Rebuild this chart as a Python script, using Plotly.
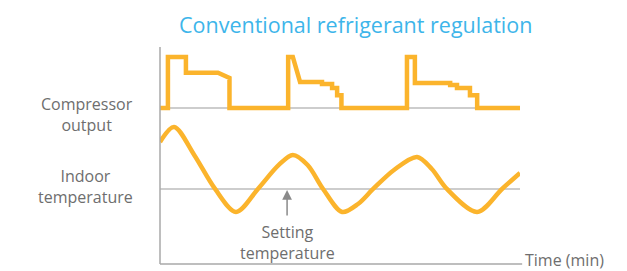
import plotly.graph_objects as go

# ---- data ----
# Compressor output (% of max) vs time (min)
comp_time = [0, 2.2, 2.2, 7.2, 7.2, 16.1, 19.3, 19.3, 35.6, 35.6, 36.9, 38.9, 45.0, 45.0,
             47.8, 47.8, 49.2, 49.2, 50.4, 50.4, 68.6, 68.6, 70.8, 70.8, 80.6, 80.6,
             82.5, 82.5, 86.1, 86.1, 88.1, 88.1, 100]
comp_level = [0, 0, 100, 100, 69, 69, 59, 0, 0, 100, 100, 51, 51, 47,
              47, 39, 39, 25, 25, 0, 0, 100, 100, 49, 49, 45,
              45, 39, 39, 25, 25, 0, 0]

# Indoor temperature (°C) vs time (min)
temp_time = [0, 3.9, 9.5, 15.3, 21.1, 27.2, 33.0, 36.9, 41.0, 45.3, 50.6, 55.0, 59.2,
             65.0, 71.4, 75.5, 79.7, 88.1, 95.0, 100]
temp_value = [26.35, 27.1, 25.7, 24.0, 22.85, 24.0, 25.2, 25.7, 25.2, 24.0, 22.85, 23.25, 24.0,
              24.95, 25.6, 25.0, 24.0, 22.85, 24.0, 24.8]

setpoint = 24.0
setpoint_marker_time = 35.3
time_range = [0, 100]

title_text = "Conventional refrigerant regulation"
label_compressor = "Compressor<br>output"
label_temperature = "Indoor<br>temperature"
label_setting = "Setting<br>temperature"
label_time = "Time (min)"

orange = "#FBB42C"
grey_line = "#BDBDBD"
axis_grey = "#A8A8A8"
text_grey = "#6E6E6E"
font_family = "'Open Sans', sans-serif"
lbl_font = dict(size=16, color=text_grey, family=font_family)

fig = go.Figure()

fig.add_trace(go.Scatter(x=comp_time, y=comp_level, mode="lines", yaxis="y2",
                         line=dict(color=orange, width=4.5, shape="linear"),
                         hoverinfo="skip", showlegend=False))
fig.add_trace(go.Scatter(x=temp_time, y=temp_value, mode="lines", yaxis="y",
                         line=dict(color=orange, width=4.5, shape="spline", smoothing=0.9),
                         hoverinfo="skip", showlegend=False))

shapes = [
    dict(type="line", xref="x", yref="y2", x0=time_range[0], x1=time_range[1], y0=0, y1=0,
         line=dict(color=grey_line, width=1.5), layer="below"),
    dict(type="line", xref="x", yref="y", x0=time_range[0], x1=time_range[1], y0=setpoint, y1=setpoint,
         line=dict(color=grey_line, width=1.5), layer="below"),
    dict(type="line", xref="paper", yref="paper", x0=0, x1=0, y0=0, y1=1,
         line=dict(color=axis_grey, width=1.5)),
    dict(type="line", xref="paper", yref="paper", x0=0, x1=1.006, y0=0, y1=0,
         line=dict(color=axis_grey, width=1.5)),
]

def txt(text, x, y, xref="paper", xanchor="center", font=lbl_font):
    return dict(text=text, xref=xref, yref="paper", x=x, y=y, showarrow=False,
                xanchor=xanchor, yanchor="middle", font=font)

annotations = [
    txt(title_text, 0.544, 1.103, font=dict(size=21.5, color="#3DB5EA", family=font_family)),
    txt(label_compressor, -0.203, 0.689),
    txt(label_temperature, -0.206, 0.355),
    txt(label_setting, setpoint_marker_time, 0.099, xref="x"),
    txt(label_time, 1.008, 0.02, xanchor="left", font=dict(size=16, color=text_grey, family=font_family)),
    dict(text="", xref="x", yref="y", x=setpoint_marker_time, y=setpoint - 0.05,
         axref="x", ayref="y", ax=setpoint_marker_time, ay=22.6, showarrow=True,
         arrowhead=2, arrowsize=1.3, arrowwidth=1.5, arrowcolor="#8A8A8A",
         standoff=0, startstandoff=0),
]

fig.update_layout(
    width=627, height=271,
    margin=dict(l=160, r=107, t=47, b=7),
    paper_bgcolor="white", plot_bgcolor="white",
    xaxis=dict(range=time_range, visible=False, fixedrange=True),
    yaxis=dict(domain=[0, 0.687], range=[20.25, 27.7], visible=False),
    yaxis2=dict(domain=[0.687, 1.0], range=[-13.7, 119.6], visible=False),
    shapes=shapes, annotations=annotations, showlegend=False,
)

fig.write_html("out.html", config={"displayModeBar": False},
               post_script="document.body.style.margin='0';document.body.style.overflow='hidden';")
